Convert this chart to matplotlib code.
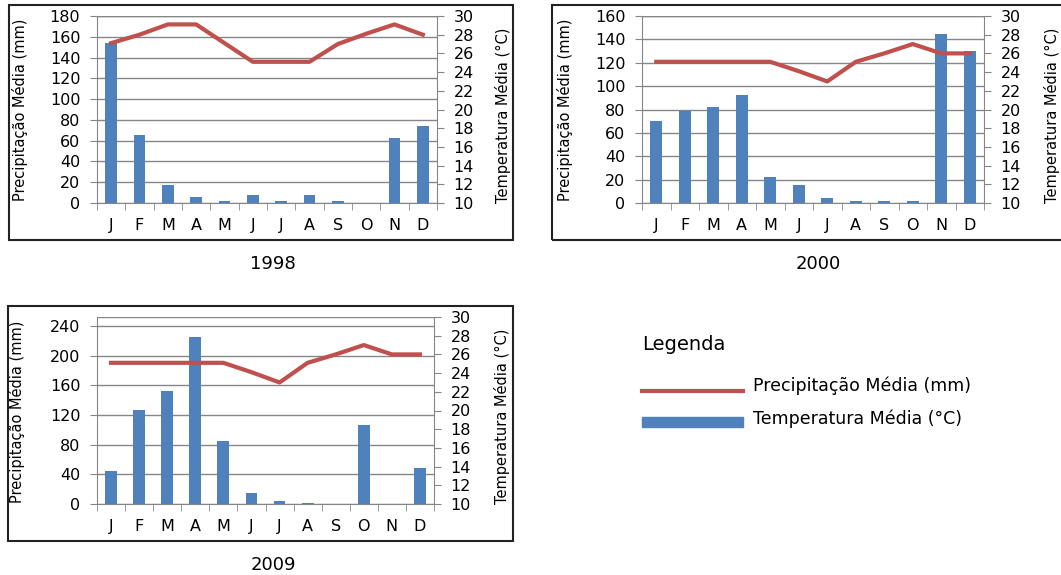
import matplotlib
matplotlib.use("Agg")
import matplotlib.pyplot as plt
import numpy as np
from matplotlib.patches import Rectangle
from matplotlib.lines import Line2D

plt.rcParams['font.family'] = ['DejaVu Sans']

months = ['J', 'F', 'M', 'A', 'M', 'J', 'J', 'A', 'S', 'O', 'N', 'D']

# 1998
prec_1998 = [154, 65, 17, 6, 2, 7.5, 2, 7.5, 2, 0, 63, 74]
temp_1998 = [27.1, 28.0, 29.1, 29.1, 27.1, 25.1, 25.1, 25.1, 27.0, 28.1, 29.1, 28.0]
# 2000
prec_2000 = [70.5, 78.5, 82, 92.5, 22, 15, 4.3, 1.7, 1.7, 1.7, 145, 130]
temp_2000 = [25.1, 25.1, 25.1, 25.1, 25.1, 24.1, 23.0, 25.1, 26.0, 27.0, 26.0, 26.0]
# 2009
prec_2009 = [44.5, 126.5, 152.5, 225.5, 85.5, 14.5, 3.6, 1.8, 0, 106, 0, 48]
temp_2009 = [25.1, 25.1, 25.1, 25.1, 25.1, 24.1, 23.0, 25.1, 26.0, 27.0, 26.0, 26.0]

label_prec = 'Precipitação Média (mm)'
label_temp = 'Temperatura Média (°C)'

BLUE = '#4F81BD'
RED = '#C0504D'
GRAY = '#868686'

W, H = 1061, 575
fig = plt.figure(figsize=(W / 100, H / 100), dpi=100)


def px(x0, y0, x1, y1):
    # pixel box (top-left origin) -> figure fraction rect
    return [x0 / W, 1 - y1 / H, (x1 - x0) / W, (y1 - y0) / H]


def panel(rect, prec, temp, ymax, ystep, ytop, title, title_xy, box, lab_l, lab_r):
    ax = fig.add_axes(rect)
    x = np.arange(len(months))
    ax.bar(x, prec, width=0.42, color=BLUE, zorder=3)
    ax.set_xlim(-0.5, 11.5)
    ax.set_ylim(0, ymax)
    ax.set_yticks(np.arange(0, ytop + 0.1, ystep))
    ax.grid(axis='y', color=GRAY, linewidth=1, zorder=0)
    ax.set_xticks(x)
    ax.set_xticklabels(months)
    ax.set_xticks(np.arange(-0.5, 12, 1), minor=True)
    ax.tick_params(axis='x', which='major', length=0, pad=11, labelsize=11.5)
    ax.tick_params(axis='x', which='minor', length=5, color=GRAY, direction='out')
    ax.tick_params(axis='y', length=5, color=GRAY, pad=7, labelsize=11.5)
    for s in ['top', 'right']:
        ax.spines[s].set_visible(False)
    for s in ['left', 'bottom']:
        ax.spines[s].set_color(GRAY)
    ax2 = ax.twinx()
    ax2.plot(x, temp, color=RED, linewidth=3.0, zorder=4)
    ax2.set_ylim(10, 30)
    ax2.set_yticks(np.arange(10, 31, 2))
    ax2.tick_params(axis='y', length=5, color=GRAY, pad=7, labelsize=11.5)
    for s in ['top', 'left', 'bottom']:
        ax2.spines[s].set_visible(False)
    ax2.spines['right'].set_color(GRAY)
    ax.axhline(ymax, color=GRAY, linewidth=1, zorder=0)
    # axis titles
    fig.text(lab_l[0] / W, 1 - lab_l[1] / H, label_prec, rotation=90,
             ha='center', va='center', fontsize=10.5)
    fig.text(lab_r[0] / W, 1 - lab_r[1] / H, label_temp, rotation=90,
             ha='center', va='center', fontsize=10.5)
    fig.text(title_xy[0] / W, 1 - title_xy[1] / H, title, ha='center',
             va='center', fontsize=13)
    bx = box
    fig.add_artist(Rectangle((bx[0] / W, 1 - bx[3] / H), (bx[2] - bx[0]) / W,
                             (bx[3] - bx[1]) / H, transform=fig.transFigure,
                             fill=False, edgecolor='#222222', linewidth=1.5))


panel(px(97, 16, 437, 203), prec_1998, temp_1998, 180, 20, 180, '1998', (273, 264),
      (9, 5, 513, 240), (20, 110), (503, 115))
panel(px(642, 16, 984, 203), prec_2000, temp_2000, 160, 20, 160, '2000', (818, 264),
      (552, 5, 1070, 240), (565, 110), (1052, 115))
panel(px(97, 317, 434, 504), prec_2009, temp_2009, 252, 40, 240, '2009', (273, 565),
      (8, 306, 513, 541), (17, 412), (502, 416))

# legend
fig.text(642 / W, 1 - 345 / H, 'Legenda', ha='left', va='center', fontsize=14)
fig.add_artist(Line2D([642 / W, 743 / W], [1 - 391 / H, 1 - 391 / H],
                      transform=fig.transFigure, color=RED, linewidth=3.0))
fig.add_artist(Rectangle((642 / W, 1 - 427 / H), 101 / W, 10 / H,
                         transform=fig.transFigure, color=BLUE))
fig.text(753 / W, 1 - 386 / H, label_prec, ha='left', va='center', fontsize=12.5)
fig.text(753 / W, 1 - 419 / H, label_temp, ha='left', va='center', fontsize=12.5)

fig.savefig('out.png', dpi=100, facecolor='white')
